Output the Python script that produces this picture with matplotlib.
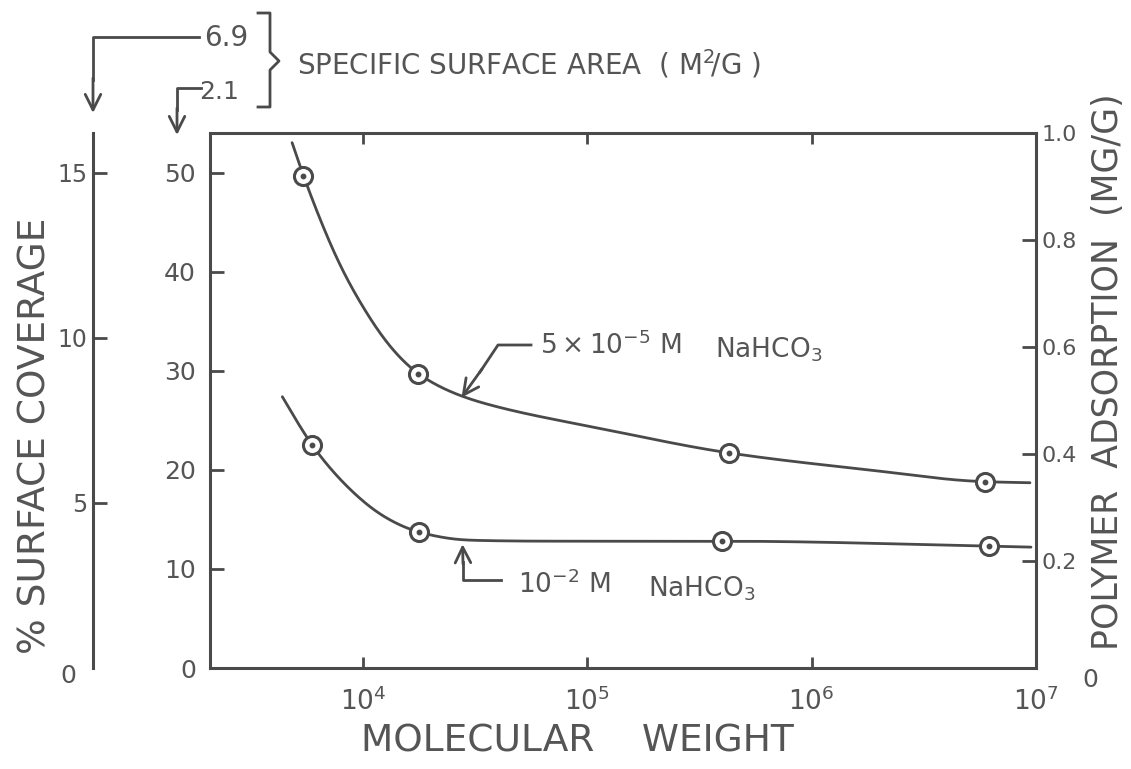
import numpy as np
import matplotlib
matplotlib.use("Agg")
import matplotlib.pyplot as plt
from matplotlib.lines import Line2D

# Measured points: % surface coverage vs. molecular weight
mw_high = [5.4e3, 1.75e4, 4.3e5, 5.9e6]          # 5x10^-5 M NaHCO3
cov_high = [49.7, 29.7, 21.7, 18.8]
mw_low = [5.9e3, 1.77e4, 4.0e5, 6.2e6]           # 10^-2 M NaHCO3
cov_low = [22.5, 13.7, 12.8, 12.3]

# Hand-drawn smooth curves through the points
curve_high_mw = [4.83e3, 5.4e3, 6.25e3, 7.66e3, 9.7e3, 1.32e4, 1.75e4, 2.7e4,
                 4.06e4, 1.13e5, 4.3e5, 1.79e6, 5.9e6, 9.4e6]
curve_high = [53.0, 49.7, 46.0, 41.2, 36.9, 32.4, 29.7, 27.5,
              26.3, 24.2, 21.7, 20.0, 18.8, 18.7]
curve_low_mw = [4.37e3, 5.9e3, 8.76e3, 1.23e4, 1.77e4, 2.9e4, 6.8e4, 4.0e5,
                6.2e6, 9.5e6]
curve_low = [27.4, 22.5, 18.0, 15.3, 13.7, 12.9, 12.8, 12.8, 12.3, 12.2]

coverage_ticks = [0, 10, 20, 30, 40, 50]
outer_ticks = [5, 10, 15]
adsorption_ticks = [0.2, 0.4, 0.6, 0.8, 1.0]
adsorption_labels = ["0.2", "0.4", "0.6", "0.8", "1.0"]
decades = [1e4, 1e5, 1e6, 1e7]
decade_labels = [r"$10^4$", r"$10^5$", r"$10^6$", r"$10^7$"]

INK = "#4a4a4a"
TXT = "#555555"
W, H = 1131, 769


def pchip(x, y, xs):
    """Monotone cubic Hermite interpolation (Fritsch-Carlson)."""
    x = np.asarray(x, float); y = np.asarray(y, float)
    h = np.diff(x); d = np.diff(y) / h
    m = np.zeros_like(y)
    for k in range(1, len(x) - 1):
        if d[k - 1] * d[k] > 0:
            w1 = 2 * h[k] + h[k - 1]; w2 = h[k] + 2 * h[k - 1]
            m[k] = (w1 + w2) / (w1 / d[k - 1] + w2 / d[k])
    m[0] = d[0]; m[-1] = d[-1]
    idx = np.clip(np.searchsorted(x, xs) - 1, 0, len(x) - 2)
    t = (xs - x[idx]) / h[idx]
    h00 = 2 * t**3 - 3 * t**2 + 1; h10 = t**3 - 2 * t**2 + t
    h01 = -2 * t**3 + 3 * t**2; h11 = t**3 - t**2
    return (h00 * y[idx] + h10 * h[idx] * m[idx] + h01 * y[idx + 1]
            + h11 * h[idx] * m[idx + 1])


def smooth_curve(mw, cov, n=900, sigma=0.045):
    """Monotone interpolation in log-x, then a light Gaussian smoothing
    so the pen stroke has no corners."""
    lx = np.log10(mw)
    xs = np.linspace(lx[0], lx[-1], n)
    ys = pchip(lx, cov, xs)
    step = xs[1] - xs[0]
    half = int(4 * sigma / step)
    k = np.exp(-0.5 * (np.arange(-half, half + 1) * step / sigma) ** 2)
    k /= k.sum()
    # extend ends linearly so the smoothing does not bend them
    left = ys[0] + (ys[0] - ys[1]) * np.arange(half, 0, -1)
    right = ys[-1] + (ys[-1] - ys[-2]) * np.arange(1, half + 1)
    ys = np.convolve(np.concatenate([left, ys, right]), k, mode="valid")
    return 10**xs, ys


def fp(x, y):
    """pixel position (y measured from top) -> figure pixels"""
    return (x, H - y)


fig = plt.figure(figsize=(W / 100, H / 100), dpi=100)
fig.patch.set_facecolor("white")

ax = fig.add_axes([210 / W, 101 / H, 826 / W, 535 / H])
ax.set_xscale("log")
ax.set_xlim(2.08e3, 1e7)
ax.set_ylim(0, 54)

for mw_c, cv_c in ((curve_high_mw, curve_high), (curve_low_mw, curve_low)):
    xs, ys = smooth_curve(mw_c, cv_c)
    ax.plot(xs, ys, color=INK, lw=2.0, zorder=2, solid_capstyle="round")

for mw, cv in ((mw_high, cov_high), (mw_low, cov_low)):
    ax.plot(mw, cv, "o", ms=13, mfc="white", mec=INK, mew=2.2, zorder=3)
    ax.plot(mw, cv, "o", ms=3.2, color=INK, zorder=4)

for s in ax.spines.values():
    s.set_color(INK); s.set_linewidth(2.2)

ax.set_xticks(decades)
ax.set_xticklabels(decade_labels, fontsize=19, color=TXT)
ax.xaxis.set_minor_locator(matplotlib.ticker.NullLocator())
ax.tick_params(axis="x", direction="in", length=8, width=2, color=INK, pad=14,
               top=True)
ax.set_yticks(coverage_ticks)
ax.set_yticklabels([str(v) for v in coverage_ticks], fontsize=18, color=TXT)
ax.tick_params(axis="y", direction="in", length=10, width=2, color=INK, pad=10)
fig.text(577 / W, 1 - 742 / H, "MOLECULAR    WEIGHT", fontsize=27, color=TXT,
         ha="center", va="center")

# right-hand scale: polymer adsorption
axr = ax.twinx()
axr.set_ylim(0, 1.0)
axr.set_yticks(adsorption_ticks)
axr.set_yticklabels(adsorption_labels, fontsize=16, color=TXT)
axr.tick_params(axis="y", direction="in", length=10, width=2, color=INK, pad=4)
for s in axr.spines.values():
    s.set_visible(False)
fig.text(1108 / W, 1 - 372 / H, "POLYMER  ADSORPTION  (MG/G)", rotation=90,
         fontsize=25, color=TXT, ha="center", va="center")
fig.text(1090 / W, 1 - 680 / H, "0", fontsize=18, color=TXT,
         ha="center", va="center")

# outer left scale: % surface coverage for the 6.9 m2/g sample
axo = fig.add_axes([93 / W, 101 / H, 0.001, 535 / H])
axo.set_ylim(0, 54 * 0.3)
axo.set_xticks([])
for k in ("top", "right", "bottom"):
    axo.spines[k].set_visible(False)
axo.spines["left"].set_color(INK); axo.spines["left"].set_linewidth(2.2)
axo.set_yticks(outer_ticks)
axo.set_yticklabels([str(v) for v in outer_ticks], fontsize=17, color=TXT)
axo.tick_params(axis="y", direction="in", length=10, width=2, color=INK, pad=4)
axo.patch.set_alpha(0)
fig.text(68 / W, 1 - 676 / H, "0", fontsize=18, color=TXT,
         ha="center", va="center")
fig.text(36 / W, 1 - 436 / H, "% SURFACE COVERAGE", rotation=90, fontsize=27,
         color=TXT, ha="center", va="center")


def polyline(pts, lw=2.0):
    xs = [p[0] / W for p in pts]; ys = [1 - p[1] / H for p in pts]
    fig.add_artist(Line2D(xs, ys, transform=fig.transFigure, color=INK, lw=lw))


def arrow(tail, tip, xycoords="figure pixels"):
    ax.annotate("", xy=tip, xycoords=xycoords, xytext=fp(*tail),
                textcoords="figure pixels",
                arrowprops=dict(arrowstyle="->", color=INK, lw=2.0,
                                mutation_scale=28, shrinkA=0, shrinkB=0),
                annotation_clip=False)


# specific surface area header with leaders and brace
fig.text(226 / W, 1 - 38 / H, "6.9", fontsize=20, color=TXT,
         ha="center", va="center")
polyline([(199, 37), (93, 37), (93, 80)])
arrow((93, 78), fp(93, 113))
fig.text(219 / W, 1 - 92 / H, "2.1", fontsize=18, color=TXT,
         ha="center", va="center")
polyline([(201, 88), (177, 88), (177, 110)])
arrow((177, 108), fp(177, 135))
polyline([(258, 13), (270, 13), (270, 52), (279, 61), (270, 70),
          (270, 107), (258, 107)])
fig.text(297 / W, 1 - 64 / H, r"SPECIFIC SURFACE AREA  ( M$^2\!$/G )",
         fontsize=20, color=TXT, ha="left", va="center")

# curve labels
fig.text(540 / W, 1 - 346 / H, r"$5\times10^{-5}$ M", fontsize=19,
         color=TXT, ha="left", va="center")
fig.text(715 / W, 1 - 350 / H, r"NaHCO$_3$", fontsize=19,
         color=TXT, ha="left", va="center")
polyline([(531, 345), (498, 345), (480, 372)])
arrow((482, 369), (2.75e4, 27.3), xycoords="data")

fig.text(518 / W, 1 - 585 / H, r"$10^{-2}$ M", fontsize=19,
         color=TXT, ha="left", va="center")
fig.text(648 / W, 1 - 589 / H, r"NaHCO$_3$", fontsize=19,
         color=TXT, ha="left", va="center")
polyline([(501, 580), (463, 580), (463, 562)])
arrow((463, 564), (2.78e4, 12.5), xycoords="data")

fig.savefig("out.png", dpi=100, facecolor="white")
